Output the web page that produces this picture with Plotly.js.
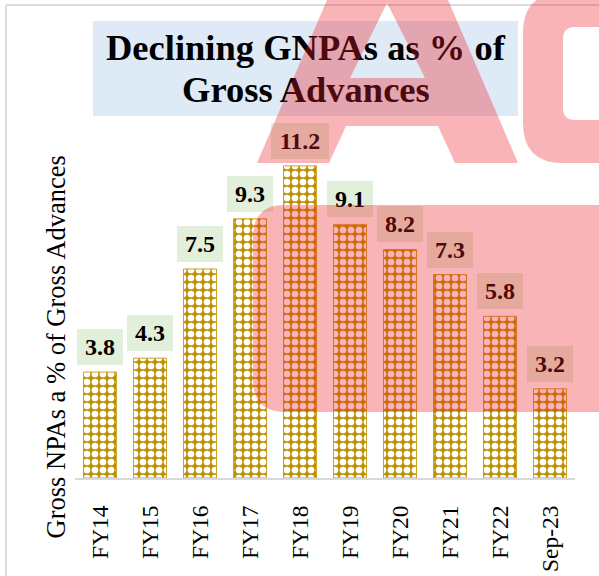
<!DOCTYPE html>
<html>
<head>
<meta charset="utf-8">
<script src="https://cdn.plot.ly/plotly-3.0.1.min.js"></script>
<style>
  html, body { margin: 0; padding: 0; background: #ffffff; }
  #wrap { position: relative; width: 599px; height: 576px; overflow: hidden; }
  #chart, #overlay { position: absolute; left: 0; top: 0; width: 599px; height: 576px; }
  #overlay { pointer-events: none; }
</style>
</head>
<body>
<div id="wrap">
  <div id="chart"></div>
  <div id="overlay"></div>
</div>
<script>
// ---- data ----
const categories = ["FY14", "FY15", "FY16", "FY17", "FY18", "FY19", "FY20", "FY21", "FY22", "Sep-23"];
const gnpaValues = [3.8, 4.3, 7.5, 9.3, 11.2, 9.1, 8.2, 7.3, 5.8, 3.2];
const valueLabels = ["3.8", "4.3", "7.5", "9.3", "11.2", "9.1", "8.2", "7.3", "5.8", "3.2"];
const titleLines = ["Declining GNPAs as % of", "Gross Advances"];
const yTitle = "Gross NPAs a % of Gross Advances";

// ---- layout geometry (pixels) ----
const W = 599, H = 576;
const L = 75, R = 24, T = 130, B = 98;
const plotW = W - L - R, plotH = H - T - B;
const pxPerUnit = 27.87;
const yMax = plotH / pxPerUnit;
const fx = x => (x - L) / plotW;          // pixel x -> paper x
const fy = y => (H - B - y) / plotH;      // pixel y -> paper y

const serif = "Liberation Serif";
const gold = "#BF9000";

const bars = {
  type: "bar",
  x: categories,
  y: gnpaValues,
  marker: {
    color: gold,
    line: { color: "#C9A227", width: 1 },
    pattern: { shape: ".", size: 8, solidity: 0.55, bgcolor: gold, fgcolor: "#FFFFFF", fillmode: "replace" }
  },
  hoverinfo: "skip"
};

const labelFont = 24;
function labelWidth(s) {
  let w = 0;
  for (const ch of s) w += (ch === ".") ? 0.25 : 0.5;
  return Math.round(w * labelFont + 16);
}

const annotations = [];
categories.forEach((c, i) => {
  annotations.push({
    xref: "x", yref: "y", x: c, y: gnpaValues[i],
    text: "<b>" + valueLabels[i] + "</b>", showarrow: false,
    xanchor: "center", yanchor: "bottom", yshift: 7,
    bgcolor: "#E2EFDA", borderpad: 0, borderwidth: 0,
    width: labelWidth(valueLabels[i]), height: 36,
    font: { family: serif, size: labelFont, color: "#000000" }
  });
});
// Title (two lines, tight spacing)
annotations.push({
  xref: "paper", yref: "paper", x: fx(305.5), y: fy(47.8),
  text: "<b>" + titleLines[0] + "</b>", showarrow: false, xanchor: "center", yanchor: "middle",
  font: { family: serif, size: 36.5, color: "#000000" }
});
annotations.push({
  xref: "paper", yref: "paper", x: fx(305.5), y: fy(89.5),
  text: "<b>" + titleLines[1] + "</b>", showarrow: false, xanchor: "center", yanchor: "middle",
  font: { family: serif, size: 36.5, color: "#000000" }
});
// Y axis title
annotations.push({
  xref: "paper", yref: "paper", x: fx(56), y: fy(347.4),
  text: yTitle, showarrow: false, textangle: -90, xanchor: "center", yanchor: "middle",
  font: { family: serif, size: 26.5, color: "#000000", weight: "normal" }
});

const layout = {
  width: W, height: H,
  margin: { l: L, r: R, t: T, b: B, pad: 0 },
  paper_bgcolor: "rgba(0,0,0,0)",
  plot_bgcolor: "rgba(0,0,0,0)",
  font: { family: serif },
  showlegend: false,
  bargap: 0.34,
  xaxis: {
    type: "category",
    showline: true, linecolor: "#D9D9D9", linewidth: 2,
    showgrid: false, zeroline: false, ticks: "",
    tickangle: -90, ticklabelstandoff: 16,
    tickfont: { family: serif, size: 23.5, color: "#000000", weight: "normal" },
    fixedrange: true
  },
  yaxis: {
    range: [0, yMax], visible: false, showgrid: false, zeroline: false, fixedrange: true
  },
  shapes: [
    { type: "rect", xref: "paper", yref: "paper", layer: "below",
      x0: fx(93), x1: fx(518), y0: fy(116), y1: fy(21),
      fillcolor: "#DEEAF6", line: { width: 0 } }
  ],
  annotations: annotations
};

Plotly.newPlot("chart", [bars], layout, { staticPlot: true, displayModeBar: false });

// ---- overlay: frame and translucent watermark ----
const pink = "rgba(237,28,36,0.33)";
const overlayLayout = {
  width: W, height: H,
  margin: { l: 0, r: 0, t: 0, b: 0, pad: 0 },
  paper_bgcolor: "rgba(0,0,0,0)",
  plot_bgcolor: "rgba(0,0,0,0)",
  xaxis: { range: [0, W], visible: false, fixedrange: true },
  yaxis: { range: [H, 0], visible: false, fixedrange: true },
  showlegend: false,
  shapes: [
    { type: "line", xref: "x", yref: "y", x0: 6, x1: 6, y0: 5, y1: H + 5, line: { color: "#D0D0D0", width: 1.5 } },
    { type: "line", xref: "x", yref: "y", x0: 6, x1: W + 5, y0: 5, y1: 5, line: { color: "#D0D0D0", width: 1.5 } },
    { type: "path", xref: "x", yref: "y", fillcolor: pink, line: { width: 0 }, fillrule: "evenodd",
      path: "M327,0 L448,0 L518,163 L455,163 L438,126 L346,126 L329,163 L257,163 Z M387,3 L425,78 L350,78 Z" },
    { type: "path", xref: "x", yref: "y", fillcolor: pink, line: { width: 0 }, fillrule: "evenodd",
      path: "M640,-7 L563,-7 Q523,-7 523,33 L523,123 Q523,163 563,163 L640,163 Z M640,27 L575,27 Q563,27 563,39 L563,108 Q563,120 575,120 L640,120 Z" },
    { type: "path", xref: "x", yref: "y", fillcolor: pink, line: { width: 0 },
      path: "M640,205 L285,205 Q253,205 253,237 L253,380 Q253,412 285,412 L640,412 Z" }
  ]
};
Plotly.newPlot("overlay", [], overlayLayout, { staticPlot: true, displayModeBar: false });
</script>
</body>
</html>
